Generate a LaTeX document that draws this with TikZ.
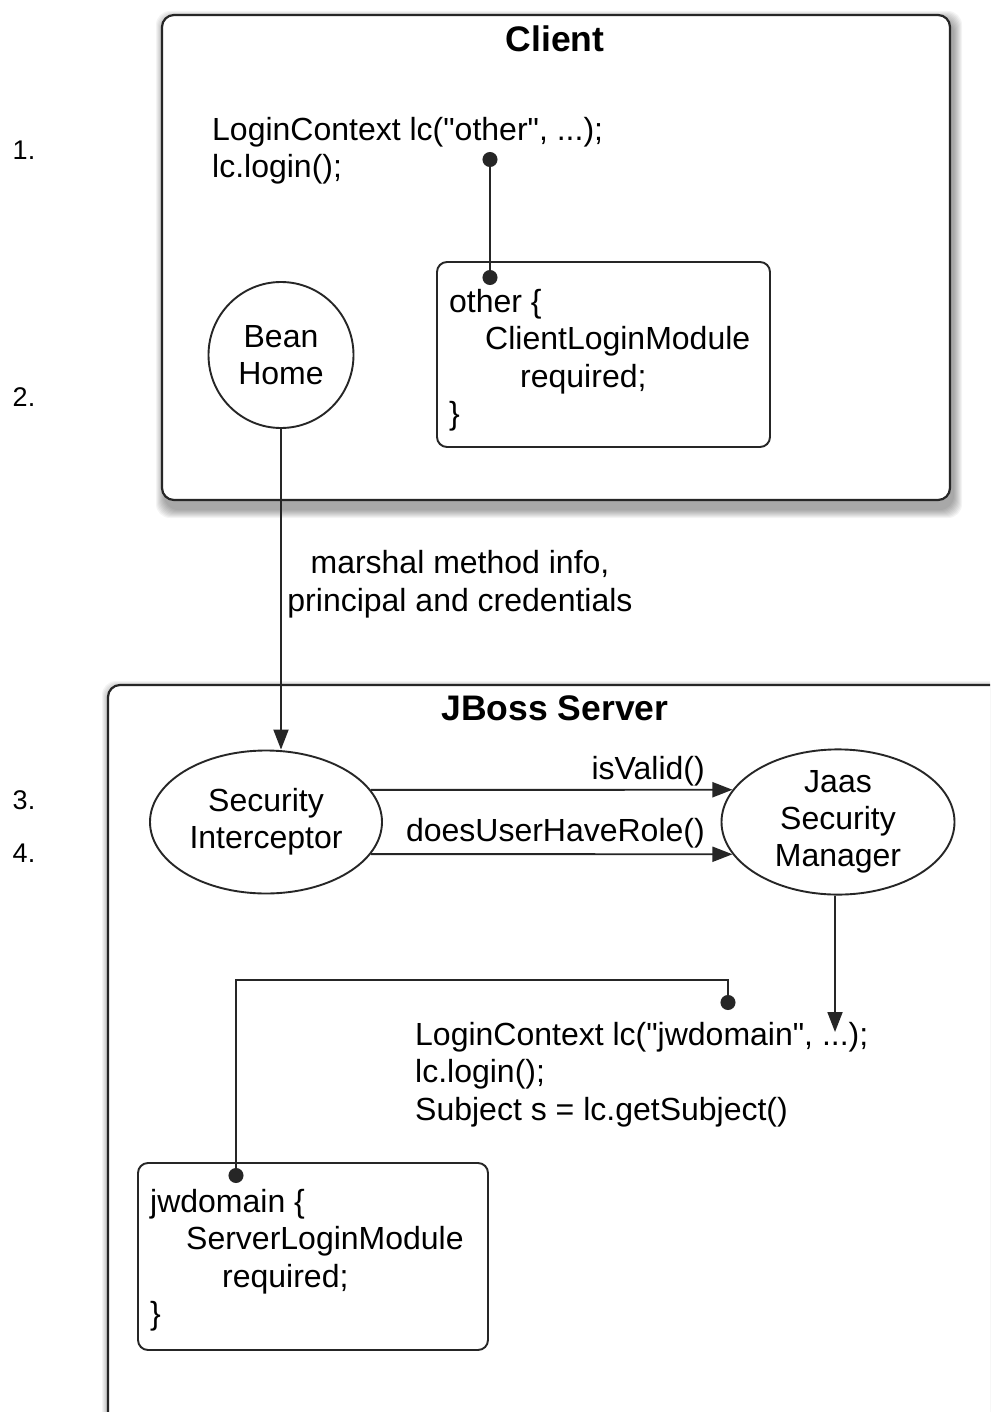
\documentclass[tikz,border=0pt]{standalone}
\usepackage{fontspec}
\setmainfont{Liberation Sans}[Ligatures=TeXOff]
\usetikzlibrary{arrows.meta,shapes.geometric,calc}
\tikzset{
  txt/.style={font=\fontsize{32}{37.5}\selectfont, inner sep=0pt, align=left},
  ttl/.style={font=\fontsize{35.5}{40}\selectfont\bfseries, inner sep=0pt},
  numlbl/.style={font=\fontsize{27}{30}\selectfont, inner sep=0pt},
  frame/.style={draw=black!85, line width=2.2pt, rounded corners=12pt, fill=white},
  cfgbox/.style={draw=black!85, line width=1.9pt, rounded corners=10pt, fill=white},
  oval/.style={ellipse, draw=black!85, line width=1.9pt, inner sep=0pt, fill=white, align=center, font=\fontsize{32}{37}\selectfont},
  conn/.style={draw=black!85, line width=1.9pt},
  arr/.style={conn, -{Triangle[length=20pt,width=15pt]}},
  dots/.style={conn, {Circle[length=15pt]}-{Circle[length=15pt]}},
}
\newcommand{\softshadow}[4]{%
  \foreach \k in {0,...,8}{%
    \fill[black, opacity=0.045, rounded corners=14pt]
      ($(#1,#2)+(2-\k,4-\k)$) rectangle ($(#3,#4)+(4+\k,10+\k)$);
  }%
}
\begin{document}
\begin{tikzpicture}[x=1pt,y=-1pt]
\useasboundingbox (0,0) rectangle (990,1412);
\clip (0,0) rectangle (990,1412);
\fill[white] (0,0) rectangle (990,1412);

% Client box
\softshadow{162}{15}{950}{500}
\path[frame] (162,15) rectangle (950,500);
\node[ttl, anchor=north] (clienttitle) at (555,26) {Client};

\node[txt, anchor=north west] (lcother) at (212,117) {LoginContext lc("other", ...);\\lc.login();};

\path[cfgbox] (437,262) rectangle (770,447);
\node[txt, anchor=north west] (othercfg) at (449,289) {other \{\\\hspace*{36pt}ClientLoginModule\\\hspace*{71pt}required;\\\}};

\node[oval, minimum width=145pt, minimum height=146pt] (bean) at (281,355) {Bean\\Home};

\coordinate (d1) at (490,152);
\coordinate (d2) at (490,285);
\draw[dots] (d1) -- (d2);

% JBoss server box
\softshadow{108}{685}{1040}{1460}
\path[frame] (108,685) rectangle (1040,1460);
\node[ttl, anchor=north] (servertitle) at (555,696) {JBoss Server};

\node[oval, minimum width=232pt, minimum height=143pt] (si) at (266,822) {Security\\Interceptor};
\node[oval, minimum width=233pt, minimum height=143pt] (jaas) at (838,822) {Jaas\\Security\\Manager};

\draw[arr] (bean.south) -- (bean.south |- si.north);

\node[txt, align=center, anchor=center] (marshal) at (460,584) {marshal method info,\\principal and credentials};

\draw[arr] (si.17) -- (jaas.163);
\draw[arr] (si.-17) -- (jaas.197);
\node[txt, anchor=north east] (isvalid) at (705,756) {isValid()};
\node[txt, anchor=north east] (hasrole) at (705,818) {doesUserHaveRole()};

\coordinate (jend) at (835,1032);
\draw[arr] (jaas.south -| jend) -- (jend);

\node[txt, anchor=north west] (lcjw) at (415,1022) {LoginContext lc("jwdomain", ...);\\lc.login();\\Subject s = lc.getSubject()};

\path[cfgbox] (138,1163) rectangle (488,1350);
\node[txt, anchor=north west] (jwcfg) at (150,1189) {jwdomain \{\\\hspace*{36pt}ServerLoginModule\\\hspace*{72pt}required;\\\}};

\coordinate (d3) at (728,1010);
\coordinate (d4) at (236,1183);
\draw[dots] (d3) -- ++(0,-30) -| (d4);

% step numbers
\node[numlbl] (n1) at (24,150) {1.};
\node[numlbl] (n2) at (24,397) {2.};
\node[numlbl] (n3) at (24,800) {3.};
\node[numlbl] (n4) at (24,853) {4.};
\end{tikzpicture}
\end{document}
